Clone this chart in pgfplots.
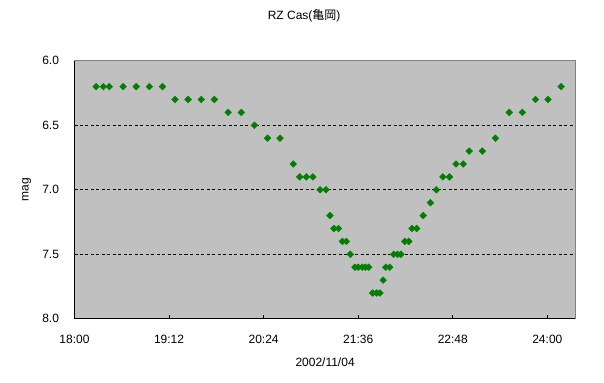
\documentclass[border=0pt]{standalone}
\usepackage{pgfplots}
\pgfplotsset{compat=1.18}
\usepackage{fontspec}
\setmainfont{Liberation Sans}
\newfontfamily\cjk{Noto Sans CJK JP}
\definecolor{ptgreen}{RGB}{0,128,0}
\definecolor{bggray}{RGB}{192,192,192}
\definecolor{bordergray}{RGB}{128,128,128}
\begin{document}
\begin{tikzpicture}
\begin{axis}[
  scale only axis, width=501.2bp, height=258bp,
  xmin=1080, xmax=1461.6, ymin=6, ymax=8, y dir=reverse,
  axis background/.style={fill=bggray},
  axis x line*=bottom, axis y line*=left,
  axis line style={black, line width=1bp, -},
  xtick={1080,1152,1224,1296,1368,1440},
  xticklabels={18:00,19:12,20:24,21:36,22:48,24:00},
  ytick={6.5,7,7.5},
  yticklabels={6.5,7.0,7.5},
  extra y ticks={6,8},
  extra y tick labels={6.0,8.0},
  extra y tick style={grid=none},
  tick align=inside, major tick length=4bp,
  tick style={black, line width=0.8bp},
  ymajorgrids, grid style={black, dash pattern=on 3bp off 2.5bp, line width=0.9bp},
  font=\fontsize{12bp}{14bp}\selectfont,
  yticklabel style={anchor=east, xshift=-12bp},
  xticklabel style={anchor=center, yshift=-21bp},
  xlabel={2002/11/04},
  xlabel style={at={(axis description cs:0.5,0)}, anchor=center, yshift=-43.6bp},
  ylabel={mag},
  ylabel style={at={(axis description cs:0,0.5)}, anchor=center, rotate=0, yshift=47.8bp},
  title={RZ Cas({\cjk 亀岡})},
  title style={at={(axis description cs:0.5,1)}, anchor=center, yshift=39.1bp, xshift=-21bp},
  clip=false,
]
\addplot[only marks, mark=square*, mark size=2.4bp,
  mark options={rotate=45, draw=ptgreen, fill=ptgreen}] table {
x y
1096.5 6.2
1102 6.2
1106.5 6.2
1117 6.2
1127 6.2
1137 6.2
1147 6.2
1156.5 6.3
1166.5 6.3
1176.5 6.3
1186.5 6.3
1197 6.4
1207 6.4
1217 6.5
1227 6.6
1236.5 6.6
1246.5 6.8
1251.5 6.9
1256.5 6.9
1261.5 6.9
1267 7.0
1271.5 7.0
1274.5 7.2
1277.5 7.3
1281 7.3
1284 7.4
1287 7.4
1290 7.5
1293.5 7.6
1296 7.6
1299 7.6
1301.5 7.6
1304 7.6
1307 7.8
1310 7.8
1312.5 7.8
1315 7.7
1317 7.6
1320 7.6
1323 7.5
1326 7.5
1328.5 7.5
1331.5 7.4
1334.5 7.4
1337 7.3
1340.5 7.3
1345.5 7.2
1351 7.1
1355.5 7.0
1360.5 6.9
1365.5 6.9
1370.5 6.8
1376 6.8
1380.5 6.7
1390.5 6.7
1400.5 6.6
1411 6.4
1421 6.4
1431 6.3
1440.5 6.3
1450.5 6.2
};
\draw[bordergray, line width=1bp] (axis cs:1080,6) -- (axis cs:1461.6,6) -- (axis cs:1461.6,8);
\end{axis}
\path[use as bounding box] ([xshift=-74.5bp,yshift=-64.2bp]current axis.south west) rectangle ([xshift=28.3bp,yshift=60.8bp]current axis.north east);
\end{tikzpicture}
\end{document}
